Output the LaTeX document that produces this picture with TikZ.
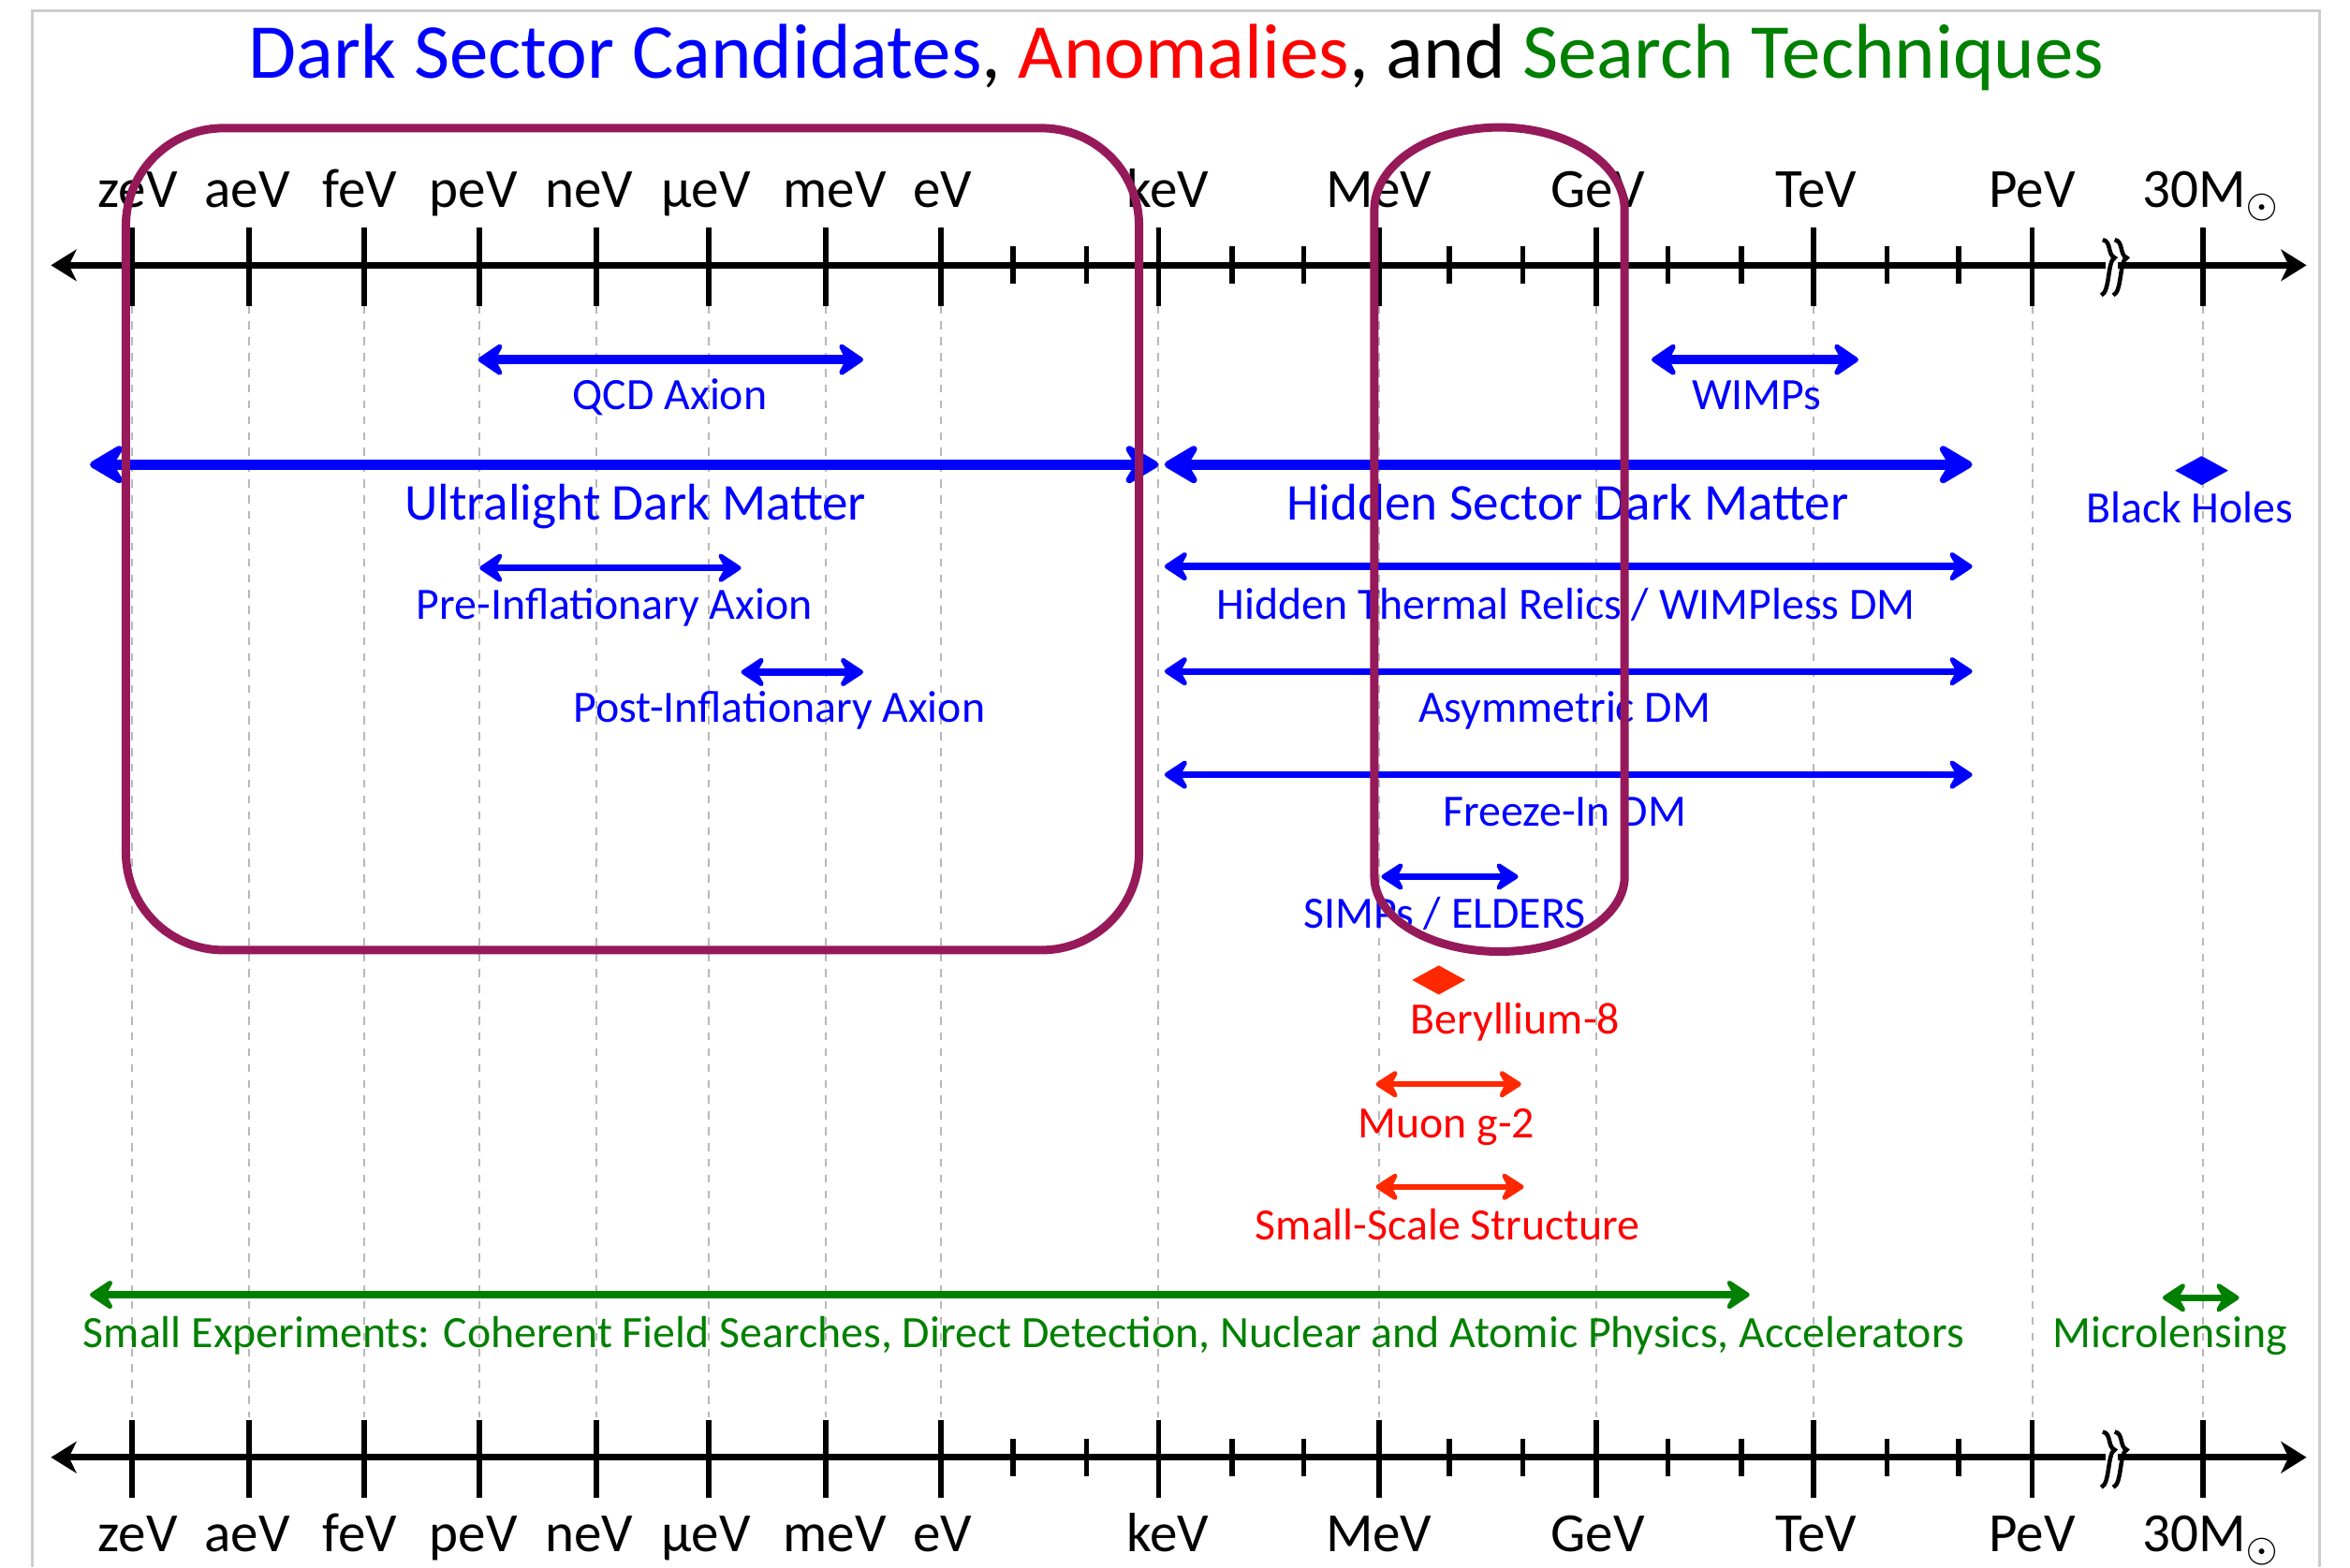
\documentclass[tikz,border=0pt]{standalone}
\usepackage{fontspec}
\setmainfont{Carlito}
\usetikzlibrary{arrows.meta,shapes.geometric}
\definecolor{dsblue}{RGB}{0,0,255}
\definecolor{dsred}{RGB}{255,0,0}
\definecolor{dsorange}{RGB}{255,40,0}
\definecolor{dsgreen}{RGB}{0,128,0}
\definecolor{boxpurple}{RGB}{150,25,90}
\definecolor{framegray}{RGB}{205,205,205}
\tikzset{
  axisline/.style={line width=1.3pt, >={Stealth[length=1.7mm,width=2.1mm,inset=0.5mm]}, <->},
  majortick/.style={line width=1pt},
  minortick/.style={line width=1pt},
  breakline/.style={line width=0.8pt},
  gridline/.style={black!28, line width=0.35pt, dash pattern=on 1.5pt off 1.5pt},
  unitlabel/.style={anchor=base, inner sep=0pt, font=\fontsize{10.5}{12}\selectfont},
  lbl/.style={anchor=base, inner sep=0pt, font=\fontsize{8.5}{10}\selectfont},
  biglbl/.style={anchor=base, inner sep=0pt, font=\fontsize{9.8}{12}\selectfont},
  bigrange/.style={line width=2pt, >={Stealth[length=2.8mm,width=3.3mm,inset=1mm,round]}, <->},
  midrange/.style={line width=1.8pt, >={Stealth[length=2mm,width=2.7mm,inset=0.7mm,round]}, <->},
  normrange/.style={line width=1.3pt, >={Stealth[length=1.9mm,width=2.5mm,inset=0.7mm,round]}, <->},
  smallrange/.style={line width=1.1pt, >={Stealth[length=1.8mm,width=2.3mm,inset=0.6mm,round]}, <->},
  markpoint/.style={diamond, aspect=1.8, minimum width=3.6mm, minimum height=2mm, inner sep=0pt},
  boxline/.style={boxpurple, line width=1.6pt},
}

\begin{document}
\begin{tikzpicture}[x=0.1mm,y=-0.1mm]
\useasboundingbox (0,0) rectangle (1568,1046);
\draw [framegray, line width=0.6pt] (21.6,1046) -- (21.6,7.3) -- (1547.5,7.3) -- (1547.5,1046);

% title
\node [anchor=base, inner sep=0pt, font=\fontsize{14.75}{17}\selectfont] (title) at (785,52)
  {\textcolor{dsblue}{Dark Sector Candidates}, \textcolor{dsred}{Anomalies}, and \textcolor{dsgreen}{Search Techniques}};

% grid lines
\foreach \x in {88,166,243,320,398,473,551,628,773,920,1065,1210,1356,1470}
  \draw [gridline] (\x,204) -- (\x,946);

% the two energy axes
\foreach \ay/\n in {177/top,972.5/bot} {
  \coordinate (\n-l) at (34,\ay);
  \coordinate (\n-r) at (1539,\ay);
  \foreach \x in {88,166,243,320,398,473,551,628,773,920,1065,1210,1356,1470}
    \draw [majortick] (\x,\ay-25) -- (\x,\ay+27);
  \foreach \x in {676,725,822,870,967,1016,1113,1162,1259,1307}
    \draw [minortick] (\x,\ay-12.5) -- (\x,\ay+12.5);
  \draw [axisline] (\n-l) -- (\n-r);
  \fill [white] (1405,\ay-4) rectangle (1413,\ay+4);
  \foreach \bx in {1403,1411}
    \draw [breakline] (\bx,\ay-17) .. controls (\bx+6,\ay-16) and (\bx+3,\ay-7) .. (\bx+8,\ay-5)
      .. controls (\bx+3,\ay-3) and (\bx+5,\ay+18) .. (\bx-1,\ay+20);
}

% unit labels
\foreach \lx/\t [count=\i] in {92/zeV,165/aeV,240/feV,316/peV,393/neV,471/µeV,557/meV,629/eV,779/keV,920/MeV,1066/GeV,1212/TeV,1356/PeV,1476/30M$_\odot$} {
  \node [unitlabel] (up\i) at (\lx,138.6) {\t};
  \node [unitlabel] (dn\i) at (\lx,1035.7) {\t};
}

% dark sector candidates
\coordinate (qcd-a) at (319,240);   \coordinate (qcd-b) at (576,240);
\draw [midrange, dsblue] (qcd-a) -- (qcd-b);
\node [lbl, text=dsblue] (qcd) at (447,273) {QCD Axion};
\coordinate (wimp-a) at (1102,240); \coordinate (wimp-b) at (1240,240);
\draw [midrange, dsblue] (wimp-a) -- (wimp-b);
\node [lbl, text=dsblue] (wimp) at (1172,273) {WIMPs};

\coordinate (uldm-a) at (60,310);   \coordinate (uldm-b) at (773,310);
\draw [bigrange, dsblue] (uldm-a) -- (uldm-b);
\node [biglbl, text=dsblue] (uldm) at (424,347) {Ultralight Dark Matter};
\coordinate (hsdm-a) at (777,310);  \coordinate (hsdm-b) at (1316,310);
\draw [bigrange, dsblue] (hsdm-a) -- (hsdm-b);
\node [biglbl, text=dsblue] (hsdm) at (1046,347) {Hidden Sector Dark Matter};
\node [markpoint, fill=dsblue] (bh-pt) at (1469,314) {};
\node [lbl, text=dsblue] (bh) at (1461,348.6) {Black Holes};

\coordinate (pre-a) at (320,379);   \coordinate (pre-b) at (494.5,379);
\draw [normrange, dsblue] (pre-a) -- (pre-b);
\node [lbl, text=dsblue] (pre) at (410,413.3) {Pre-Inflationary Axion};
\coordinate (htr-a) at (777,378);   \coordinate (htr-b) at (1316,378);
\draw [normrange, dsblue] (htr-a) -- (htr-b);
\node [lbl, text=dsblue] (htr) at (1045,413.3) {Hidden Thermal Relics / WIMPless DM};

\coordinate (post-a) at (494.5,448.5); \coordinate (post-b) at (576,448.5);
\draw [normrange, dsblue] (post-a) -- (post-b);
\node [lbl, text=dsblue] (post) at (520,482) {Post-Inflationary Axion};
\coordinate (adm-a) at (777,448);   \coordinate (adm-b) at (1316,448);
\draw [normrange, dsblue] (adm-a) -- (adm-b);
\node [lbl, text=dsblue] (adm) at (1044,482) {Asymmetric DM};

\coordinate (fi-a) at (777,517);    \coordinate (fi-b) at (1316,517);
\draw [normrange, dsblue] (fi-a) -- (fi-b);
\node [lbl, text=dsblue] (fi) at (1044,551) {Freeze-In DM};
\coordinate (simp-a) at (921.7,585); \coordinate (simp-b) at (1013,585);
\draw [smallrange, dsblue] (simp-a) -- (simp-b);
\node [lbl, text=dsblue] (simp) at (964,619.5) {SIMPs / ELDERS};

% anomalies
\node [markpoint, fill=dsorange] (be-pt) at (960,654) {};
\node [lbl, text=dsred] (be) at (1011,689.7) {Beryllium-8};
\coordinate (mu-a) at (918,723.5);  \coordinate (mu-b) at (1015,723.5);
\draw [smallrange, dsorange] (mu-a) -- (mu-b);
\node [lbl, text=dsred] (mu) at (965,759) {Muon g-2};
\coordinate (sss-a) at (918,792);   \coordinate (sss-b) at (1016.7,792);
\draw [smallrange, dsorange] (sss-a) -- (sss-b);
\node [lbl, text=dsred] (sss) at (966,827.7) {Small-Scale Structure};

% search techniques
\coordinate (se-a) at (60,864);     \coordinate (se-b) at (1167.4,864);
\draw [normrange, dsgreen] (se-a) -- (se-b);
\node [lbl, text=dsgreen] (se) at (683,899.5) {Small Experiments: Coherent Field Searches, Direct Detection, Nuclear and Atomic Physics, Accelerators};
\coordinate (ml-a) at (1443,866);   \coordinate (ml-b) at (1494,866);
\draw [normrange, dsgreen] (ml-a) -- (ml-b);
\node [lbl, text=dsgreen] (ml) at (1448,899.5) {Microlensing};

% highlighted regions
\draw [boxline, rounded corners=6.5mm] (84,85.5) rectangle (760,634);
\draw [boxline] (917,140) -- (917,585) .. controls (917,612.6) and (954.4,635) .. (1000.5,635)
  .. controls (1046.6,635) and (1084,612.6) .. (1084,585) -- (1084,140)
  .. controls (1084,109.6) and (1046.6,85) .. (1000.5,85)
  .. controls (954.4,85) and (917,109.6) .. (917,140) -- cycle;
\end{tikzpicture}
\end{document}
